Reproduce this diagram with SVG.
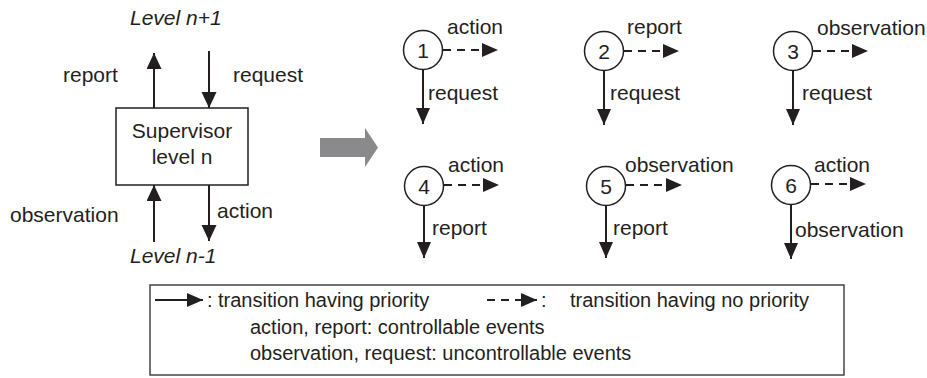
<svg xmlns="http://www.w3.org/2000/svg" width="927" height="378" viewBox="0 0 927 378">
<style>
text{font-family:"Liberation Sans",Arial,sans-serif;fill:#231f20}
.lbl{font-size:21px}
.num{font-size:21px;text-anchor:middle}
.it{font-size:21px;font-style:italic}
.leg{font-size:20px}
.solid{stroke:#231f20;stroke-width:2;fill:none}
.dash{stroke:#231f20;stroke-width:2.2;fill:none;stroke-dasharray:8 6}
.st{fill:#fff;stroke:#231f20;stroke-width:1.5}
</style>
<defs>
<marker id="ah" markerUnits="userSpaceOnUse" markerWidth="17" markerHeight="15" refX="16" refY="7" orient="auto">
<path d="M0,0 L16,7 L0,14 z" fill="#231f20"/>
</marker>
<marker id="ahL" markerUnits="userSpaceOnUse" markerWidth="17" markerHeight="16" refX="16" refY="7.5" orient="auto">
<path d="M0,0 L16,7.5 L0,15 z" fill="#231f20"/>
</marker>
</defs>

<g id="connectors">
<line class="solid" x1="154" y1="108" x2="154" y2="53" marker-end="url(#ahL)"/>
<line class="solid" x1="209" y1="51" x2="209" y2="108" marker-end="url(#ahL)"/>
<line class="solid" x1="154" y1="242" x2="154" y2="185" marker-end="url(#ahL)"/>
<line class="solid" x1="209" y1="185" x2="209" y2="241" marker-end="url(#ahL)"/>

<line class="dash" x1="443" y1="50" x2="498" y2="50" marker-end="url(#ah)"/>
<line class="solid" x1="423" y1="69" x2="423" y2="124" marker-end="url(#ah)"/>
<line class="dash" x1="624" y1="51" x2="679" y2="51" marker-end="url(#ah)"/>
<line class="solid" x1="604" y1="70" x2="604" y2="125" marker-end="url(#ah)"/>
<line class="dash" x1="813" y1="51" x2="868" y2="51" marker-end="url(#ah)"/>
<line class="solid" x1="793" y1="70" x2="793" y2="125" marker-end="url(#ah)"/>

<line class="dash" x1="444" y1="185" x2="499" y2="185" marker-end="url(#ah)"/>
<line class="solid" x1="424" y1="205" x2="424" y2="258" marker-end="url(#ah)"/>
<line class="dash" x1="626" y1="185" x2="682" y2="185" marker-end="url(#ah)"/>
<line class="solid" x1="606" y1="205" x2="606" y2="258" marker-end="url(#ah)"/>
<line class="dash" x1="811" y1="184" x2="866" y2="184" marker-end="url(#ah)"/>
<line class="solid" x1="791" y1="204" x2="791" y2="259" marker-end="url(#ah)"/>
</g>

<g id="supervisor">
<rect x="116" y="108" width="132" height="77" fill="#fff" stroke="#231f20" stroke-width="1.5"/>
<text class="lbl" x="182" y="138" text-anchor="middle">Supervisor</text>
<text class="lbl" x="182" y="164" text-anchor="middle">level n</text>
</g>

<g id="left-labels">
<text class="it" x="130" y="25">Level n+1</text>
<text class="it" x="130" y="263">Level n-1</text>
<text class="lbl" x="63" y="82">report</text>
<text class="lbl" x="233" y="82">request</text>
<text class="lbl" x="10" y="222">observation</text>
<text class="lbl" x="217" y="218">action</text>
</g>

<g id="big-arrow">
<path d="M320,138 L365,138 L365,128 L378,147.5 L365,167 L365,157 L320,157 z" fill="#8a8a8c"/>
</g>

<g id="state1">
<circle class="st" cx="423" cy="50" r="19.5"/>
<text class="num" x="423" y="58">1</text>
<text class="lbl" x="447" y="34">action</text>
<text class="lbl" x="428" y="100">request</text>
</g>
<g id="state2">
<circle class="st" cx="604" cy="51" r="19.5"/>
<text class="num" x="604" y="59">2</text>
<text class="lbl" x="627" y="34">report</text>
<text class="lbl" x="610" y="100">request</text>
</g>
<g id="state3">
<circle class="st" cx="793" cy="51" r="19.5"/>
<text class="num" x="793" y="59">3</text>
<text class="lbl" x="817" y="35">observation</text>
<text class="lbl" x="802" y="100">request</text>
</g>
<g id="state4">
<circle class="st" cx="424" cy="186" r="19.5"/>
<text class="num" x="424" y="194">4</text>
<text class="lbl" x="448" y="172">action</text>
<text class="lbl" x="432" y="235">report</text>
</g>
<g id="state5">
<circle class="st" cx="606" cy="186" r="19.5"/>
<text class="num" x="606" y="194">5</text>
<text class="lbl" x="625" y="172">observation</text>
<text class="lbl" x="613" y="235">report</text>
</g>
<g id="state6">
<circle class="st" cx="791" cy="185" r="19.5"/>
<text class="num" x="791" y="193">6</text>
<text class="lbl" x="814" y="172">action</text>
<text class="lbl" x="795" y="237">observation</text>
</g>

<g id="legend">
<rect x="150" y="285" width="694" height="90" fill="#fff" stroke="#444" stroke-width="1.5"/>
<line class="solid" x1="155" y1="300" x2="203" y2="300" stroke-width="1.5" marker-end="url(#ah)"/>
<text class="leg" x="207" y="307">:</text>
<text class="leg" x="218" y="307">transition having priority</text>
<line class="dash" x1="487" y1="300" x2="537" y2="300" stroke-dasharray="7 5" marker-end="url(#ah)"/>
<text class="leg" x="541" y="307">:</text>
<text class="leg" x="570" y="307">transition having no priority</text>
<text class="leg" x="250" y="334">action, report: controllable events</text>
<text class="leg" x="250" y="360">observation, request: uncontrollable events</text>
</g>
</svg>
